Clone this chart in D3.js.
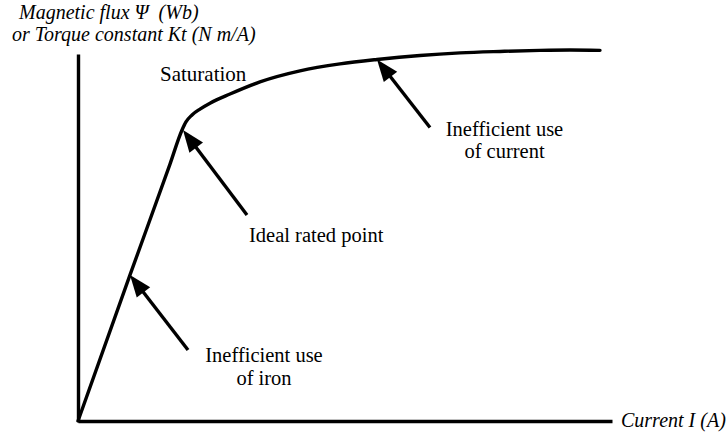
<!DOCTYPE html>
<html>
<head>
<meta charset="utf-8">
<script src="https://cdn.jsdelivr.net/npm/d3@7"></script>
<style>
  html, body { margin: 0; padding: 0; background: #fff; }
  svg { display: block; }
</style>
</head>
<body>
<svg id="chart" width="727" height="434"></svg>
<script>
// Magnetisation curve: flux (or torque constant) against current, arbitrary units
const current = [0, 0.974, 1.723, 1.948, 2.022, 2.135, 2.285, 2.472, 2.846, 3.408, 4.157, 4.906, 5.599, 6.404, 7.154, 7.903, 8.652, 9.213, 9.775];
const flux    = [0, 0.398, 0.700, 0.793, 0.815, 0.834, 0.850, 0.866, 0.891, 0.924, 0.954, 0.973, 0.985, 0.996, 1.003, 1.007, 1.010, 1.011, 1.010];

// Annotated points on the curve
const noteLabels  = [["Inefficient use", "of iron"], ["Ideal rated point"], ["Inefficient use", "of current"]];
const noteCurrent = [0.974, 1.966, 5.599];
const noteFlux    = [0.398, 0.793, 0.985];

const yTitle = ["Magnetic flux \u03A8  (Wb)", "or Torque constant Kt (N m/A)"];
const xTitle = "Current I (A)";

const FONT = '"Liberation Serif"';

const svg = d3.select("#chart");

const x = d3.scaleLinear().domain([0, 10]).range([78, 612]);
const y = d3.scaleLinear().domain([0, 1]).range([421, 54]);

const STROKE = 3.4;

// Axes: bare lines, no ticks
svg.append("g")
  .attr("transform", `translate(0,${y(0)})`)
  .call(d3.axisBottom(x).tickValues([]).tickSizeOuter(0))
  .call(g => g.select(".domain").attr("stroke", "#000").attr("stroke-width", STROKE));

svg.append("g")
  .attr("transform", `translate(${x(0)},0)`)
  .call(d3.axisLeft(y).tickValues([]).tickSizeOuter(0))
  .call(g => g.select(".domain").attr("stroke", "#000").attr("stroke-width", STROKE));

// Curve
const pts = current.map((c, i) => [c, flux[i]]);
svg.append("path")
  .datum(pts)
  .attr("fill", "none")
  .attr("stroke", "#000")
  .attr("stroke-width", STROKE)
  .attr("stroke-linecap", "round")
  .attr("d", d3.line().x(d => x(d[0])).y(d => y(d[1])).curve(d3.curveMonotoneX));

function label(txt, px, py, opts = {}) {
  return svg.append("text")
    .style("font-family", FONT)
    .style("font-size", (opts.size || 21) + "px")
    .style("font-style", opts.italic ? "italic" : "normal")
    .style("white-space", "pre")
    .attr("text-anchor", opts.anchor || "start")
    .attr("fill", "#000")
    .attr("x", px).attr("y", py)
    .text(txt);
}

// Arrow tails (pixel offsets from the tip) and label placement
const tailOffset = [[58, 75], [64, 85], [53, 68]];
const labelPos = [
  { x: 264, y: 362, anchor: "middle" },
  { x: 249, y: 242, anchor: "start" },
  { x: 504.5, y: 135.5, anchor: "middle" }
];
const headLen = 22, headHalf = 8.5;
const noteSize = 20.5, lineGap = 22.8;

noteLabels.forEach((lines, i) => {
  const tx = x(noteCurrent[i]), ty = y(noteFlux[i]);
  const sx = tx + tailOffset[i][0], sy = ty + tailOffset[i][1];
  const dx = tx - sx, dy = ty - sy, len = Math.hypot(dx, dy);
  const ux = dx / len, uy = dy / len;
  const bx = tx - ux * headLen, by = ty - uy * headLen;

  svg.append("line")
    .attr("x1", sx).attr("y1", sy)
    .attr("x2", bx + ux * 2).attr("y2", by + uy * 2)
    .attr("stroke", "#000").attr("stroke-width", STROKE);

  svg.append("path")
    .attr("fill", "#000")
    .attr("d", `M${tx},${ty}L${bx - uy * headHalf},${by + ux * headHalf}L${bx + uy * headHalf},${by - ux * headHalf}Z`);

  lines.forEach((s, k) => {
    label(s, labelPos[i].x, labelPos[i].y + k * lineGap, { anchor: labelPos[i].anchor, size: noteSize });
  });
});

// Saturation label near the knee
label("Saturation", 160, 81);

// Axis titles
label(xTitle, 621, 427, { size: 20, italic: true });
label(yTitle[0], 19, 19, { size: 20, italic: true });
label(yTitle[1], 12, 40.5, { size: 20, italic: true });
</script>
</body>
</html>
